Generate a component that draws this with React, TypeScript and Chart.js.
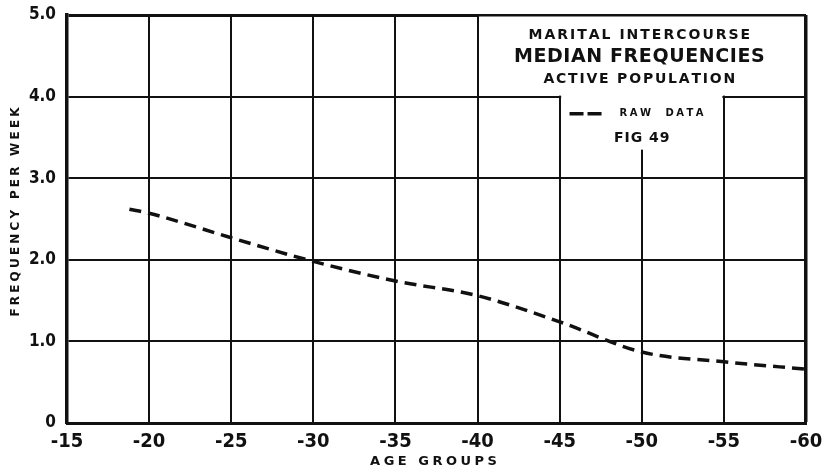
import React, { useEffect, useRef } from "react";
import { Chart, registerables } from "chart.js";

Chart.register(...registerables);

// Data
const ageGroups = [-18.8, -20, -25, -30, -35, -40, -45, -50, -55, -60];
const rawMedianFrequency = [2.62, 2.57, 2.27, 1.98, 1.74, 1.56, 1.24, 0.87, 0.75, 0.66];

const xTickValues = [-15, -20, -25, -30, -35, -40, -45, -50, -55, -60];
const yTickValues = [0, 1, 2, 3, 4, 5];
const yTickLabels = ["0", "1.0", "2.0", "3.0", "4.0", "5.0"];

const titleLines = ["MARITAL INTERCOURSE", "MEDIAN FREQUENCIES", "ACTIVE POPULATION"];
const legendLabel = "RAW  DATA";
const figureLabel = "FIG 49";
const xAxisTitle = "AGE GROUPS";
const yAxisTitle = "FREQUENCY PER WEEK";

const INK = "#111";
const FONT = "'DejaVu Sans', 'Liberation Sans', sans-serif";
const COND = "'DejaVu Sans Condensed', 'DejaVu Sans', sans-serif";

// draws text centred on (x, y) with extra spacing between characters
function spaced(ctx: CanvasRenderingContext2D, text: string, x: number, y: number, spacing: number) {
  const chars = Array.from(text);
  const widths = chars.map((ch) => ctx.measureText(ch).width);
  const total = widths.reduce((a, b) => a + b, 0) + spacing * (chars.length - 1);
  let cx = x - total / 2;
  ctx.textAlign = "left";
  chars.forEach((ch, i) => {
    ctx.fillText(ch, cx, y);
    cx += widths[i] + spacing;
  });
}

const overlayPlugin = {
  id: "overlay",
  beforeDatasetsDraw(chart: any) {
    const { ctx, chartArea, scales } = chart;
    const x = scales.x;
    const y = scales.y;
    const x40 = x.getPixelForValue(-40);
    const x45 = x.getPixelForValue(-45);
    const x55 = x.getPixelForValue(-55);
    const x60 = x.getPixelForValue(-60);
    const y4 = y.getPixelForValue(4);
    const yFig = y.getPixelForValue(3.35);
    const top = chartArea.top;
    ctx.save();
    ctx.fillStyle = "#fff";
    ctx.fillRect(x40 + 1.5, top + 1.5, x60 - 2 - (x40 + 1.5), y4 - 1 - (top + 1.5));
    ctx.fillRect(x45 + 1.5, y4 - 2, x55 - 1.5 - (x45 + 1.5), yFig - (y4 - 2));

    const cx = x.getPixelForValue(-49.85);
    ctx.fillStyle = INK;
    ctx.textBaseline = "middle";
    ctx.font = "bold 14px " + FONT;
    spaced(ctx, titleLines[0], cx, top + 20, 2);
    ctx.font = "bold 19px " + FONT;
    spaced(ctx, titleLines[1], cx, top + 42, 0.6);
    ctx.font = "bold 14px " + FONT;
    spaced(ctx, titleLines[2], cx, top + 64, 1.8);

    // legend
    const lx0 = x.getPixelForValue(-45.6);
    const lx1 = x.getPixelForValue(-47.6);
    const ly = y.getPixelForValue(3.79);
    ctx.strokeStyle = INK;
    ctx.lineWidth = 3.5;
    ctx.setLineDash([14, 4]);
    ctx.beginPath();
    ctx.moveTo(lx0, ly);
    ctx.lineTo(lx1, ly);
    ctx.stroke();
    ctx.setLineDash([]);
    ctx.font = "bold 10px " + FONT;
    spaced(ctx, legendLabel, x.getPixelForValue(-51.2), ly, 2.5);
    ctx.font = "bold 14px " + FONT;
    spaced(ctx, figureLabel, x.getPixelForValue(-50), y.getPixelForValue(3.49), 1);
    ctx.restore();
  },
  afterDraw(chart: any) {
    const { ctx, chartArea } = chart;
    ctx.save();
    ctx.fillStyle = INK;
    ctx.textBaseline = "middle";
    ctx.font = "bold 13px " + FONT;
    spaced(ctx, xAxisTitle, (chartArea.left + chartArea.right) / 2 - 3, chartArea.bottom + 39, 3.5);
    ctx.translate(16, (chartArea.top + chartArea.bottom) / 2 - 7);
    ctx.rotate(-Math.PI / 2);
    ctx.font = "bold 12px " + FONT;
    spaced(ctx, yAxisTitle, 0, 0, 3.2);
    ctx.restore();
  },
};

export default function App() {
  const ref = useRef<HTMLCanvasElement>(null);
  useEffect(() => {
    document.body.style.margin = "0";
    const canvas = ref.current!;
    const chart = new Chart(canvas, {
      type: "line",
      data: {
        datasets: [
          {
            label: "RAW DATA",
            data: ageGroups.map((a, i) => ({ x: a, y: rawMedianFrequency[i] })),
            borderColor: INK,
            borderWidth: 3.5,
            borderDash: [12, 7],
            borderCapStyle: "butt",
            pointRadius: 0,
            cubicInterpolationMode: "monotone",
            fill: false,
          },
        ],
      },
      options: {
        responsive: false,
        animation: false,
        devicePixelRatio: 1,
        layout: { padding: { left: 0, right: 16, top: 15, bottom: 0 } },
        plugins: { legend: { display: false }, tooltip: { enabled: false }, title: { display: false } },
        scales: {
          x: {
            type: "linear",
            reverse: true,
            min: -60,
            max: -15,
            afterBuildTicks: (s: any) => {
              s.ticks = xTickValues.map((v) => ({ value: v }));
            },
            afterFit: (s: any) => {
              s.height = 52;
              s.paddingLeft = 0;
              s.paddingRight = 0;
            },
            ticks: {
              color: INK,
              font: { family: COND, size: 20, weight: "bold" },
              padding: 7,
              maxRotation: 0,
              autoSkip: false,
              callback: (v: any) => String(v),
            },
            grid: {
              color: INK,
              lineWidth: (c: any) => (c.tick && c.tick.value === -60 ? 3.5 : 2),
              drawTicks: false,
            },
            border: { color: INK, width: 3 },
          },
          y: {
            type: "linear",
            min: 0,
            max: 5,
            afterBuildTicks: (s: any) => {
              s.ticks = yTickValues.map((v) => ({ value: v }));
            },
            afterFit: (s: any) => {
              s.width = 67;
              s.paddingTop = 0;
              s.paddingBottom = 0;
            },
            ticks: {
              color: INK,
              font: { family: COND, size: 17, weight: "bold" },
              padding: 11,
              autoSkip: false,
              callback: (v: any) => {
                const i = yTickValues.indexOf(Number(v));
                return i >= 0 ? yTickLabels[i] : "";
              },
            },
            grid: {
              color: INK,
              lineWidth: (c: any) => (c.tick && c.tick.value === 5 ? 3 : 2),
              drawTicks: false,
            },
            border: { color: INK, width: 3.5 },
          },
        },
      },
      plugins: [overlayPlugin],
    } as any);
    return () => chart.destroy();
  }, []);
  return (
    <div style={{ position: "absolute", left: 0, top: 0, width: 822, height: 475, background: "#fff" }}>
      <canvas ref={ref} width={822} height={475} style={{ display: "block" }} />
    </div>
  );
}
